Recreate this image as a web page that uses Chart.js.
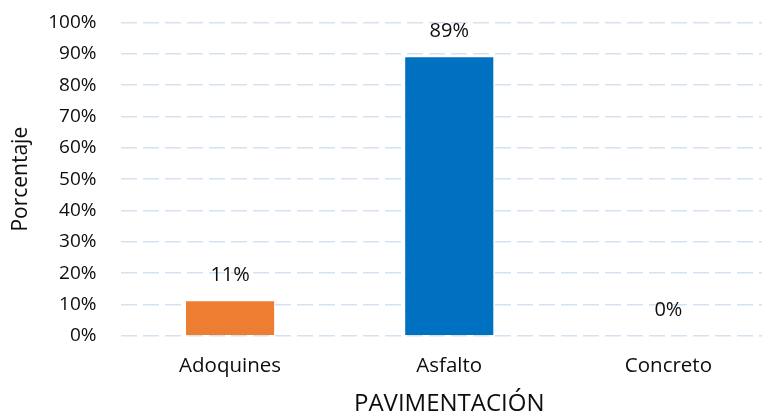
<!DOCTYPE html>
<html>
<head>
<meta charset="utf-8">
<script src="https://cdn.jsdelivr.net/npm/chart.js@4.4.1/dist/chart.umd.min.js"></script>
<style>
  html, body { margin: 0; padding: 0; background: #fff; overflow: hidden; width: 762px; height: 416px; }
  #wrap { position: absolute; left: 0; top: 0; width: 778px; height: 416px; }
</style>
</head>
<body>
<div id="wrap"><canvas id="c" width="778" height="416"></canvas></div>
<script>
const categories = ['Adoquines', 'Asfalto', 'Concreto'];
const percentages = [11, 89, 0];
const barColors = ['#ED7D31', '#0070C0', '#A5A5A5'];
const xTitle = 'PAVIMENTACIÓN';
const yTitle = 'Porcentaje';

const FONT = 'Open Sans';
const TEXT = '#0d0d0d';

const valueLabels = {
  id: 'valueLabels',
  afterDatasetsDraw(chart) {
    const ctx = chart.ctx;
    const meta = chart.getDatasetMeta(0);
    ctx.save();
    ctx.font = '20px "' + FONT + '"';
    ctx.fillStyle = TEXT;
    ctx.textAlign = 'center';
    ctx.textBaseline = 'middle';
    meta.data.forEach((bar, i) => {
      ctx.fillText(percentages[i] + '%', bar.x, bar.y - 25.5);
    });
    ctx.restore();
  }
};

new Chart(document.getElementById('c'), {
  type: 'bar',
  data: {
    labels: categories,
    datasets: [{
      data: percentages,
      backgroundColor: barColors,
      borderWidth: 0,
      categoryPercentage: 1.0,
      barPercentage: 0.402
    }]
  },
  options: {
    responsive: false,
    animation: false,
    layout: { padding: { top: 22.7, right: 0, bottom: 0, left: 0 } },
    plugins: { legend: { display: false }, tooltip: { enabled: false } },
    scales: {
      x: {
        grid: { display: false, drawTicks: false },
        border: { display: false },
        ticks: { color: TEXT, font: { family: FONT, size: 20.5 }, padding: 18 },
        title: { display: true, text: xTitle, color: TEXT, font: { family: FONT, size: 24, lineHeight: 1 }, padding: { top: 0, bottom: 0 } },
        afterFit(scale) { scale.height = 416 - 335.7; }
      },
      y: {
        min: 0, max: 100,
        ticks: { stepSize: 10, color: TEXT, font: { family: FONT, size: 19 }, padding: 0, callback: v => v + '%' },
        grid: { color: '#D5E2F2', lineWidth: 1.6, drawTicks: true, tickLength: 24, tickColor: 'rgba(0,0,0,0)' },
        border: { display: false, dash: [16, 6] },
        title: { display: true, text: yTitle, color: TEXT, font: { family: FONT, size: 21, lineHeight: 1 }, padding: { top: 11, bottom: 0 } },
        afterFit(scale) { scale.width = 120.5; scale.paddingTop = 0; }
      }
    }
  },
  plugins: [valueLabels]
});
</script>
</body>
</html>
